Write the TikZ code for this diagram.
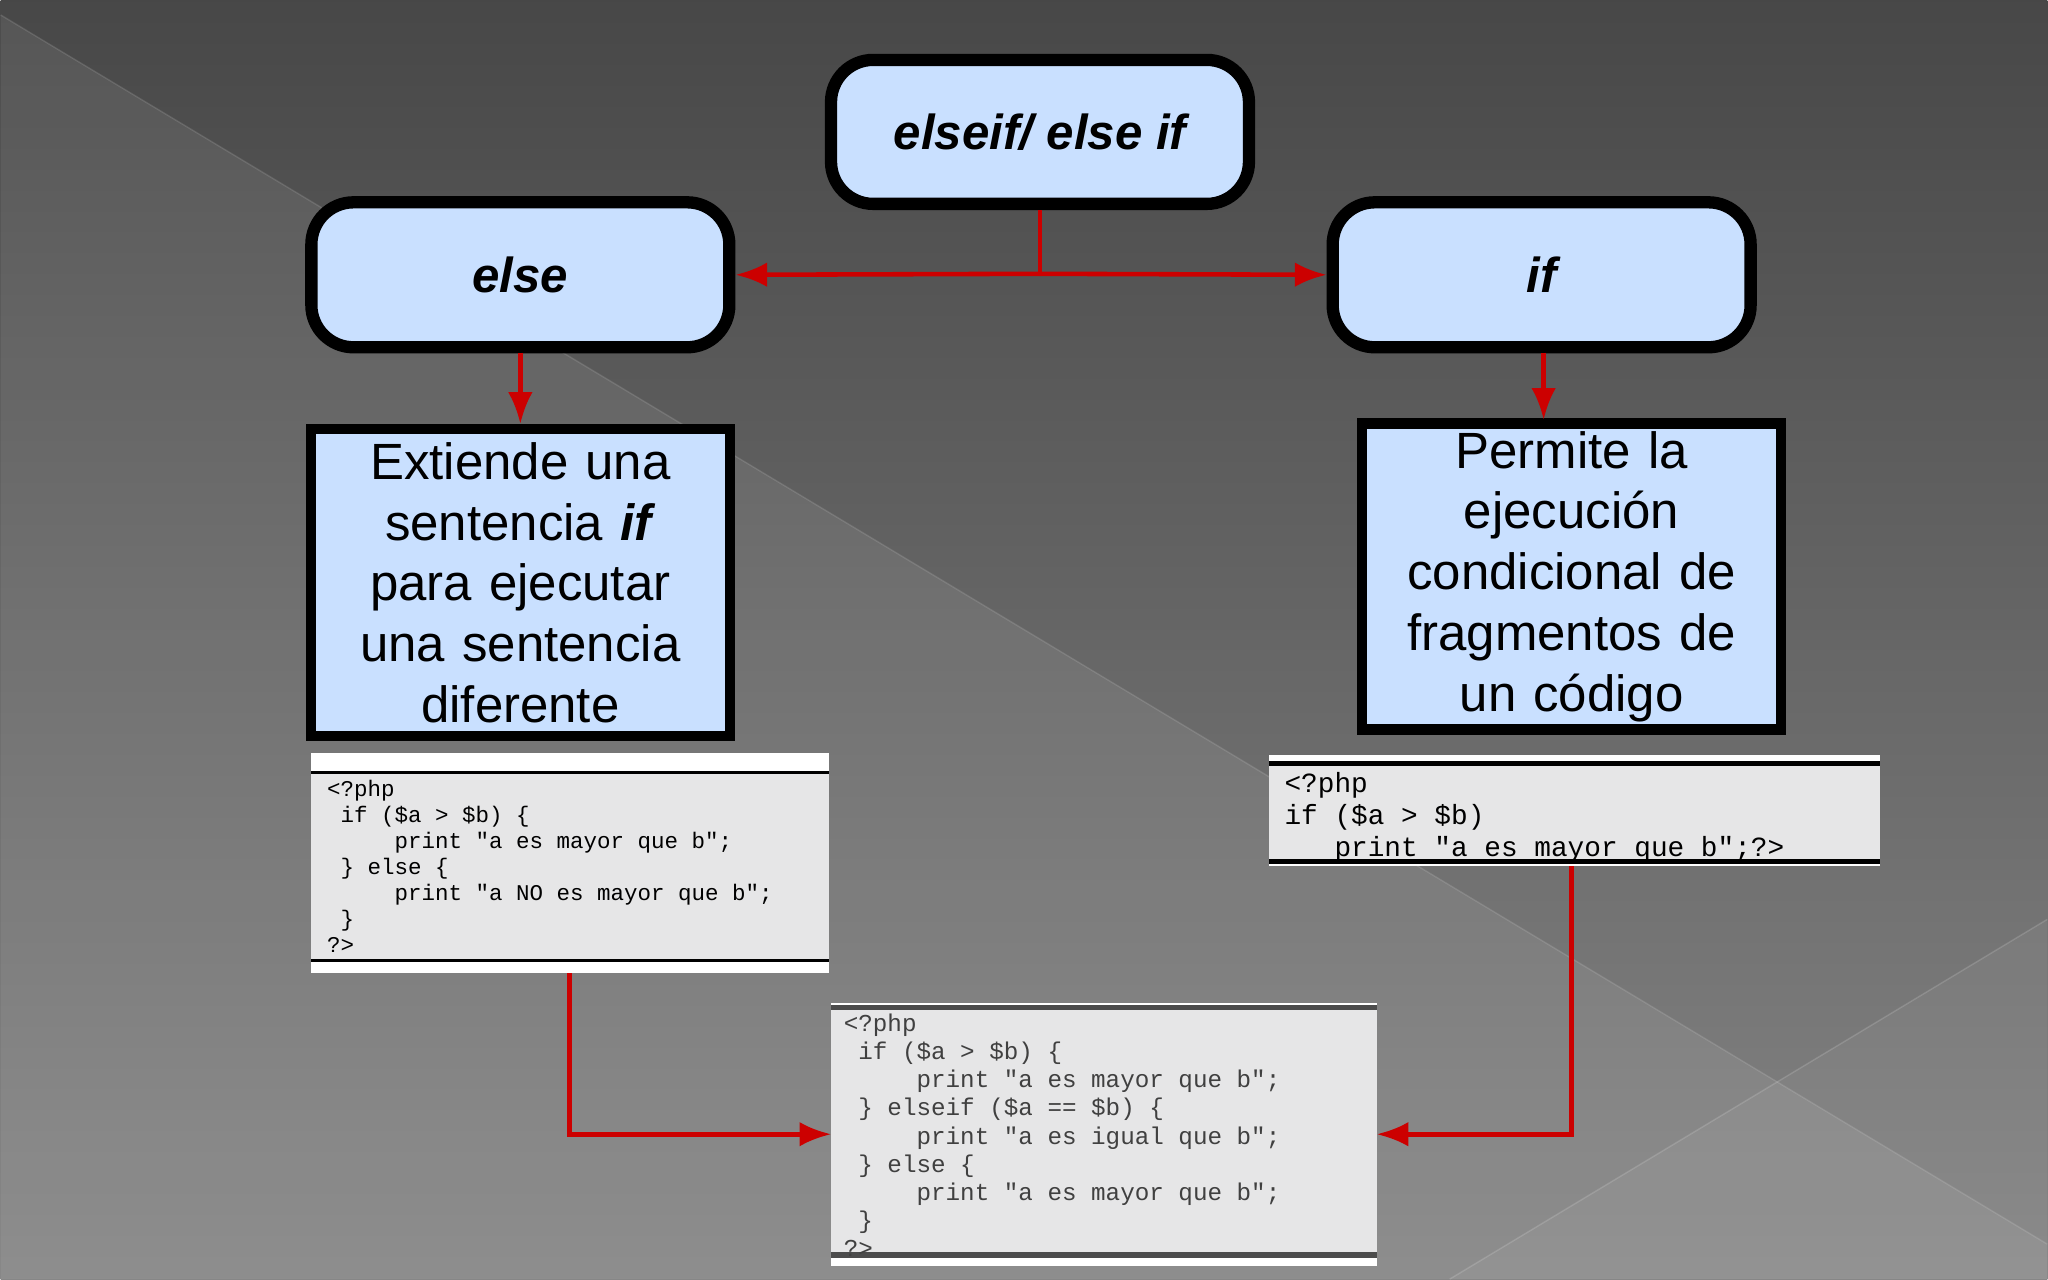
\documentclass[tikz,border=0pt]{standalone}
\usepackage{fontspec}
\setmainfont{Liberation Sans}
\setmonofont{Liberation Mono}
\usetikzlibrary{arrows.meta}
\definecolor{boxblue}{HTML}{C9E0FF}
\definecolor{codegray}{HTML}{E6E6E7}
\definecolor{linered}{HTML}{CC0000}
\begin{document}
\begin{tikzpicture}[x={(0.01cm,0)},y={(0,-0.01cm)},
  hdr/.style={draw=black,line width=3.5pt,fill=boxblue,rounded corners=12pt,font=\fontsize{14}{17}\selectfont\bfseries\itshape},
  desc/.style={draw=black,line width=3pt,fill=boxblue,font=\fontsize{14.5}{17.3}\selectfont,align=center},
  conn/.style={draw=linered,line width=1.3pt,-{Latex[length=9pt,width=7pt]}},
  plain/.style={draw=linered,line width=1.3pt}]
% background
\shade[top color=black!72,bottom color=black!48] (0,0) rectangle (2048,1280);
\fill[white,opacity=0.08] (0,15) -- (2048,1245) -- (2048,1280) -- (0,1280) -- cycle;
\fill[white,opacity=0.05] (1450,1280) -- (2048,920) -- (2048,1280) -- cycle;
\draw[white,opacity=0.15] (1450,1280) -- (2048,920);
\draw[white,opacity=0.12] (0,15) -- (2048,1245);
% header boxes
\node[hdr,minimum width=4.18cm,minimum height=1.44cm] (eif) at (1040,132) {elseif/ else if};
\node[hdr,minimum width=4.18cm,minimum height=1.45cm] (els) at (520,275) {else};
\node[hdr,minimum width=4.18cm,minimum height=1.45cm] (iff) at (1542,275) {if};
% description boxes
\node[desc,minimum width=4.19cm,minimum height=3.07cm,text width=4cm,inner sep=0pt] (ext) at (520,583)
 {Extiende una\\sentencia \textbf{\textit{if}}\\para ejecutar\\una sentencia\\diferente};
\node[desc,minimum width=4.19cm,minimum height=3.06cm,text width=4cm,inner sep=0pt] (per) at (1572,577)
 {Permite la\\ejecución\\condicional de\\fragmentos de\\un código};
% left code box
\fill[white] (311,754) rectangle (829,974);
\fill[codegray] (311,773) rectangle (829,961);
\draw[black,line width=1pt] (311,773) -- (829,773) (311,961) -- (829,961);
\node[anchor=north west,inner sep=0,align=left,font=\ttfamily\fontsize{6.4}{7.4}\selectfont] (lc) at (326,780)
{<?php\\
\ if (\$a > \$b) \{\\
\ \ \ \ \ print "a es mayor que b";\\
\ \} else \{\\
\ \ \ \ \ print "a NO es mayor que b";\\
\ \}\\
?>};
\coordinate (lcb) at (569,974);
% right code box
\fill[white] (1269,756) rectangle (1881,867);
\fill[codegray] (1269,764) rectangle (1881,862);
\draw[black,line width=1.2pt] (1269,764) -- (1881,764) (1269,862) -- (1881,862);
\node[anchor=north west,inner sep=0,align=left,font=\ttfamily\fontsize{7.9}{9.2}\selectfont] (rc) at (1284,772)
{<?php\\
if (\$a > \$b)\\
\ \ \ print "a es mayor que b";?>};
\coordinate (rcb) at (1572,867);
% bottom code box
\fill[white] (831,1004) rectangle (1377,1267);
\fill[codegray] (831,1008) rectangle (1377,1256);
\draw[black!70,line width=1.5pt] (831,1008) -- (1377,1008) (831,1256) -- (1377,1256);
\coordinate (bl) at (831,1135);
\coordinate (br) at (1377,1135);
\node[anchor=north west,inner sep=0,align=left,text=black!75,font=\ttfamily\fontsize{6.9}{8}\selectfont] (bc) at (843,1014)
{<?php\\
\ if (\$a > \$b) \{\\
\ \ \ \ \ print "a es mayor que b";\\
\ \} elseif (\$a == \$b) \{\\
\ \ \ \ \ print "a es igual que b";\\
\ \} else \{\\
\ \ \ \ \ print "a es mayor que b";\\
\ \}\\
?>};
% connectors
\coordinate (j) at (1040,274);
\draw[plain] (eif.south) -- (j);
\draw[conn] (j) -- (els.east);
\draw[conn] (j) -- (iff.west);
\draw[conn] (520,353) -- (ext.north);
\draw[conn] (1544,353) -- (1544,420);
\draw[conn] (lcb) |- (bl);
\draw[conn] (rcb) |- (br);
\end{tikzpicture}
\end{document}
